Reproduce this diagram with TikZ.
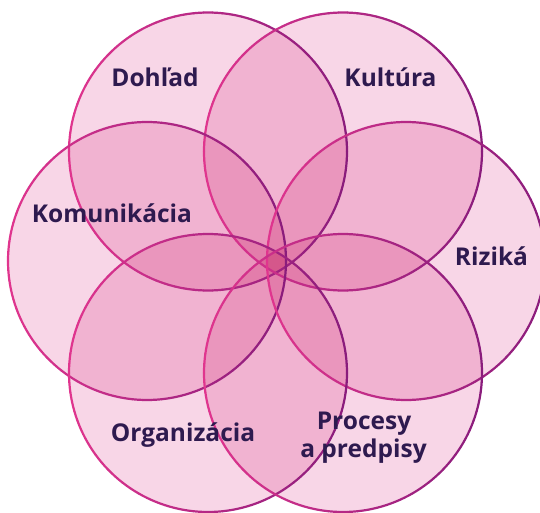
\documentclass[tikz,border=0pt]{standalone}
\usepackage{fontspec}
\setmainfont{Open Sans}
\definecolor{fillC}{HTML}{F8D6E7}
\definecolor{magC}{HTML}{E0358E}
\definecolor{purC}{HTML}{8A1C7C}
\definecolor{txtC}{HTML}{2E1A4F}
\tikzset{
  lbl/.style={font=\fontsize{24.5}{28}\selectfont\bfseries, text=txtC, inner sep=0pt, anchor=base}
}
\begin{document}
\begin{tikzpicture}[x=1pt,y=-1pt]
\useasboundingbox (0,0) rectangle (540,513);
\clip (0,0) rectangle (540,513);
\coordinate (cD) at (208,151.5);
\coordinate (cK) at (343,151.5);
\coordinate (cM) at (147,261);
\coordinate (cR) at (406,261);
\coordinate (cO) at (208,373);
\coordinate (cP) at (343,373);
\def\rad{139}
\begin{scope}[blend group=multiply]
  \foreach \c in {cD,cK,cM,cR,cO,cP} {
    \fill[fillC] (\c) circle[radius=\rad];
  }
\end{scope}
\foreach \c in {cD,cK,cM,cR,cO,cP} {
  \foreach \a in {0,4,...,356} {
    \pgfmathtruncatemacro\t{round(50*(1+cos(\a+2)))}
    \draw[line width=2.2pt, color=purC!\t!magC, line cap=round]
      (\c) ++(\a:\rad) arc[start angle=\a, end angle=\a+4, radius=\rad];
  }
}
\node[lbl] (tD) at (155,87) {Dohľad};
\node[lbl] (tK) at (390.5,87) {Kultúra};
\node[lbl] (tM) at (112,222) {Komunikácia};
\node[lbl] (tR) at (491.5,265) {Riziká};
\node[lbl] (tO) at (183,441) {Organizácia};
\node[lbl] (tP1) at (364,429) {Procesy};
\node[lbl] (tP2) at (363.5,457) {a predpisy};
\end{tikzpicture}
\end{document}
